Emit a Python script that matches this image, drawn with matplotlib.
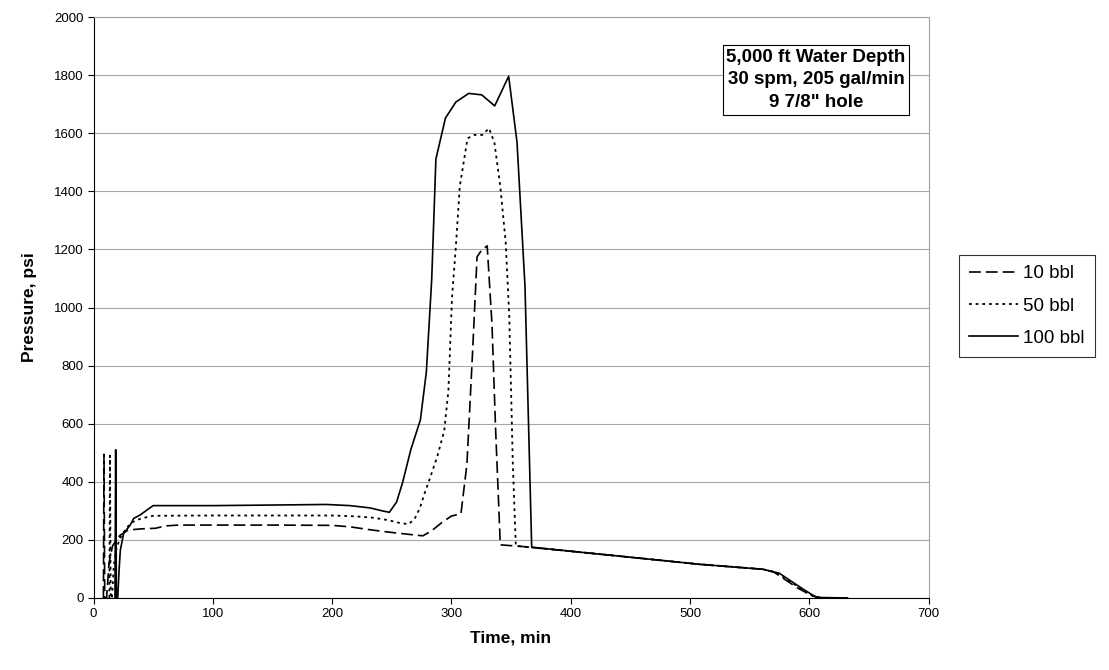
import matplotlib
matplotlib.use('Agg')
import matplotlib.pyplot as plt

plt.rcParams['font.family'] = ['Liberation Sans', 'DejaVu Sans']
plt.rcParams['lines.scale_dashes'] = False

# ---- data (time in min, pressure in psi) ----
t10 = [8.3, 8.8, 9.4, 11, 13, 16, 22, 29, 40, 52, 60, 71, 100, 150, 200, 215, 230, 245,
       260, 276, 283, 293, 300, 308, 313, 317.7, 321.5, 325.5, 330, 334, 337, 341, 360,
       400, 458, 508, 561, 570, 578, 590, 602, 610, 632]
p10 = [0, 495, 0, 0, 120, 180, 215, 234, 238, 240, 248, 251, 251, 251, 250, 245, 236, 228,
       221, 214, 230, 263, 282, 290, 460, 842, 1174, 1199, 1212, 944, 587, 183, 177,
       161, 137, 116, 99, 90, 68, 35, 8, 0, 0]

t50 = [13.3, 13.8, 14.4, 15.5, 17, 19, 22, 28, 33, 40, 50, 100, 150, 200, 220, 235, 247,
       256, 264, 269, 273.5, 278, 281, 288, 294, 297.5, 300.5, 304, 307, 313.5, 319, 326,
       331.5, 336, 341, 345.5, 348.5, 351.5, 354, 360, 400, 458, 508, 561, 572, 582, 593,
       604, 612, 632]
p50 = [0, 490, 0, 0, 110, 165, 205, 243, 262, 274, 283, 284, 284, 284, 281, 276, 268,
       259, 254, 271, 309, 366, 400, 485, 575, 715, 1033, 1225, 1416, 1582, 1594, 1594,
       1617, 1569, 1416, 1225, 970, 460, 180, 177, 161, 137, 116, 99, 88, 62, 32,
       5, 0, 0]

t100 = [18.0, 18.6, 19.2, 20.3, 21.5, 22.5, 25.3, 30.8, 33.7, 39.2, 44.8, 50, 100, 150, 195,
        215, 232, 242, 248, 254, 259, 266, 274, 279, 283.5, 287, 295, 303.7, 314.5, 325.4,
        336.3, 348, 355, 361.7, 367.3, 400, 458, 508, 561, 575, 584, 595, 606, 632]
p100 = [0, 510, 0, 0, 100, 165, 223, 251, 274, 286, 303, 318, 318, 320, 322,
        318, 310, 300, 295, 330, 396, 511, 613, 778, 1097, 1511, 1652, 1707, 1737, 1732,
        1694, 1796, 1569, 1072, 175, 161, 137, 116, 99, 85, 60, 30, 2, 0]

labels = ['10 bbl', '50 bbl', '100 bbl']
x_ticks = list(range(0, 701, 100))
y_ticks = list(range(0, 2001, 200))
info_text = '5,000 ft Water Depth\n30 spm, 205 gal/min\n9 7/8" hole'

W, H = 1109, 670
fig = plt.figure(figsize=(W / 100, H / 100), dpi=100)
ax = fig.add_axes([93.5 / W, 1 - 598 / H, (928.6 - 93.5) / W, (598 - 17) / H])

ax.plot(t10, p10, color='black', lw=1.2, linestyle=(0, (8.5, 3.6)), label=labels[0])
ax.plot(t50, p50, color='black', lw=1.3, linestyle=(0, (2.0, 2.8)), label=labels[1])
ax.plot(t100, p100, color='black', lw=1.2, linestyle='-', label=labels[2])

ax.set_xlim(0, 700)
ax.set_ylim(0, 2000)
ax.set_xticks(x_ticks)
ax.set_yticks(y_ticks)
ax.tick_params(axis='both', direction='out', length=4, width=0.8, labelsize=9.5, pad=3)
ax.yaxis.grid(True, color='#a8a8a8', lw=0.8)
ax.set_axisbelow(True)
for s in ['top', 'right']:
    ax.spines[s].set_color('#a0a0a0')
    ax.spines[s].set_linewidth(0.8)
for s in ['left', 'bottom']:
    ax.spines[s].set_color('black')
    ax.spines[s].set_linewidth(0.8)

ax.set_xlabel('Time, min', fontsize=12.5, fontweight='bold', labelpad=8)
ax.set_ylabel('Pressure, psi', fontsize=12.5, fontweight='bold', labelpad=12)

fig.text(816 / W, 1 - 80 / H, info_text, ha='center', va='center', fontsize=13.5,
         fontweight='bold', multialignment='center', linespacing=1.45,
         bbox=dict(boxstyle='square,pad=0.2', fc='white', ec='black', lw=0.8))

leg = fig.legend(loc='upper left', bbox_to_anchor=(959 / W, 1 - 255 / H), fontsize=13.5,
                 frameon=True, fancybox=False, edgecolor='black', handlelength=2.6,
                 handletextpad=0.25, labelspacing=0.8, borderpad=0.55, borderaxespad=0)
leg.get_frame().set_linewidth(0.8)

fig.savefig('out.png', dpi=100)
